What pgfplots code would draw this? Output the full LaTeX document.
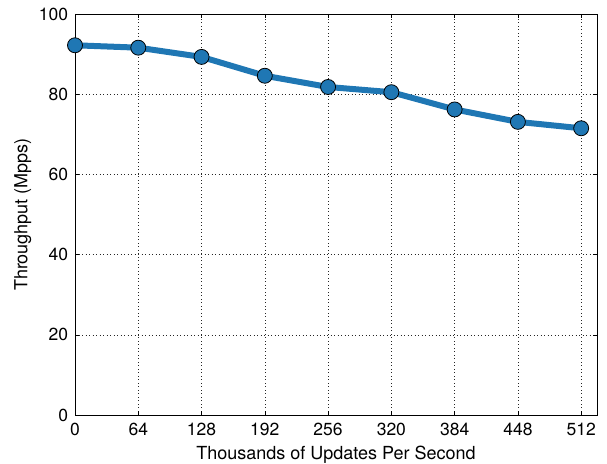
\documentclass[border=0pt]{standalone}
\usepackage{fontspec}
\setmainfont{TeX Gyre Heros}
\usepackage{pgfplots}
\pgfplotsset{compat=1.18}
\definecolor{lineblue}{HTML}{1F77B4}
\begin{document}
\fontsize{17bp}{20bp}\selectfont
\begin{tikzpicture}
\begin{axis}[
  scale only axis,
  width=522bp, height=401bp,
  xmin=0, xmax=528, ymin=0, ymax=100,
  xtick={0,64,...,512}, ytick={0,20,...,100},
  grid=major,
  major grid style={black!85, dash pattern=on 0.9bp off 2.6bp, line width=0.6pt},
  axis line style={black, line width=0.6pt},
  tick style={black, line width=0.6pt},
  tick align=inside,
  major tick length=4bp,
  /pgf/number format/assume math mode=true,
  ticklabel style={font=\fontsize{17.5bp}{20bp}\selectfont},
  label style={font=\fontsize{18bp}{21bp}\selectfont},
  xticklabel style={yshift=-2.5bp},
  yticklabel style={xshift=-1bp},
  xlabel={Thousands of Updates Per Second},
  ylabel={Throughput (Mpps)},
  xlabel style={yshift=2bp},
  ylabel style={yshift=-4bp},
  clip=false,
]
\addplot[color=lineblue, line width=6bp, mark=*, mark size=7.5bp,
  mark options={fill=lineblue, draw=black, line width=0.8pt}]
  coordinates {(0,92.2) (64,91.6) (128,89.3) (192,84.6) (256,81.8) (320,80.5) (384,76.2) (448,73.1) (512,71.5)};
\end{axis}
\pgfresetboundingbox
\path[use as bounding box] ([xshift=-75bp,yshift=-49bp]current axis.south west) rectangle ([xshift=10bp,yshift=14bp]current axis.north east);
\end{tikzpicture}
\end{document}
